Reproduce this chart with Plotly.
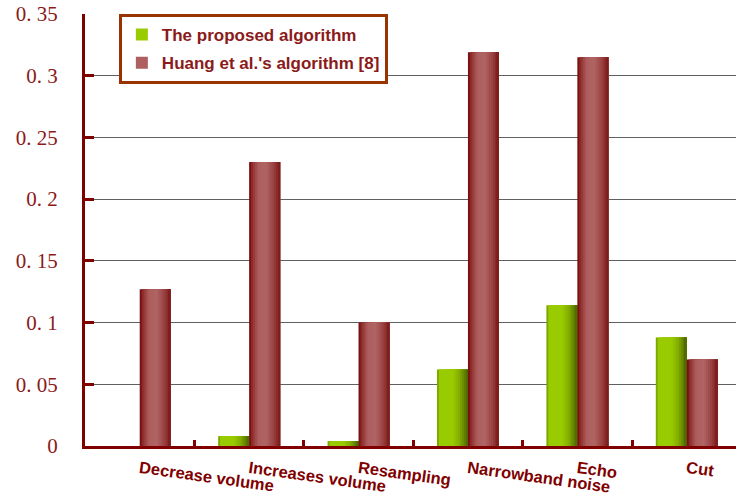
import numpy as np
import plotly.graph_objects as go

# Data
categories = ["Decrease volume", "Increases volume", "Resampling",
              "Narrowband noise", "Echo", "Cut"]
proposed = [0.0, 0.008, 0.004, 0.062, 0.114, 0.088]
huang = [0.127, 0.230, 0.100, 0.319, 0.315, 0.070]
series_names = ["The proposed algorithm", "Huang et al.'s algorithm [8]"]
y_tickvals = [0, 0.05, 0.1, 0.15, 0.2, 0.25, 0.3, 0.35]
y_ticktext = ["0", "0. 05", "0. 1", "0. 15", "0. 2", "0. 25", "0. 3", "0. 35"]

DARK_RED = "#800000"
BAR_W = 0.283        # width of one bar in category units
N_STRIPS = 16        # vertical strips used to shade each bar like a cylinder

# colour stops (position across bar, hex colour) for the cylinder shading
green_stops = [(0.0, "#6f8f00"), (0.08, "#99cc00"), (0.5, "#99cc00"),
               (0.72, "#85ad00"), (0.88, "#648400"), (1.0, "#4b6400")]
red_stops = [(0.0, "#6e0606"), (0.1, "#8f2c2c"), (0.3, "#ad5e5e"),
             (0.55, "#b06464"), (0.8, "#984040"), (1.0, "#7c1818")]


def hex2rgb(h):
    h = h.lstrip("#")
    return np.array([int(h[i:i + 2], 16) for i in (0, 2, 4)], dtype=float)


def shade(stops, t):
    pos = [p for p, _ in stops]
    cols = np.array([hex2rgb(c) for _, c in stops])
    rgb = [np.interp(t, pos, cols[:, i]) for i in range(3)]
    return "rgb(%d,%d,%d)" % tuple(int(round(v)) for v in rgb)


fig = go.Figure()

for values, stops, base, name in [
        (proposed, green_stops, -BAR_W, series_names[0]),
        (huang, red_stops, 0.0, series_names[1])]:
    sw = BAR_W / N_STRIPS
    for k in range(N_STRIPS):
        t = (k + 0.5) / N_STRIPS
        # each strip runs to the bar's right edge; later strips cover earlier ones
        fig.add_trace(go.Bar(
            x=categories, y=values,
            offset=base + k * sw,
            width=BAR_W - k * sw,
            marker=dict(color=shade(stops, t), line=dict(width=0)),
            name=name,
            legendgroup=name,
            showlegend=(k == N_STRIPS // 3),
            hoverinfo="skip",
        ))

fig.update_layout(
    width=736, height=501,
    margin=dict(l=85, r=0, t=14, b=55),
    paper_bgcolor="white", plot_bgcolor="white",
    barmode="overlay",
    showlegend=True,
    legend=dict(
        x=0.052, y=1.0, xanchor="left", yanchor="top",
        bgcolor="white", bordercolor="#993300", borderwidth=3,
        font=dict(family="Liberation Sans", size=17, color="#8b1a1a", weight="bold"),
        traceorder="grouped", tracegroupgap=3,
        itemwidth=30,
    ),
    xaxis=dict(
        type="category",
        range=[-0.5, 5.45],
        automargin=False,
        showline=True, linecolor=DARK_RED, linewidth=3,
        showgrid=False, zeroline=False,
        ticks="inside", tickson="boundaries", ticklen=6, tickwidth=3,
        tickcolor=DARK_RED,
        tickangle=8,
        ticklabelstandoff=4,
        tickfont=dict(family="Liberation Sans", size=16.5, color=DARK_RED, weight="bold"),
    ),
    yaxis=dict(
        range=[0, 0.35],
        automargin=False,
        tickvals=y_tickvals, ticktext=y_ticktext,
        showline=True, linecolor=DARK_RED, linewidth=3,
        showgrid=True, gridcolor="#606060", gridwidth=1,
        zeroline=False,
        ticks="inside", ticklen=9, tickwidth=3, tickcolor=DARK_RED,
        ticklabelstandoff=20,
        tickfont=dict(family="Liberation Serif", size=21, color="#8b1a1a"),
    ),
)

fig.write_html("out.html")
